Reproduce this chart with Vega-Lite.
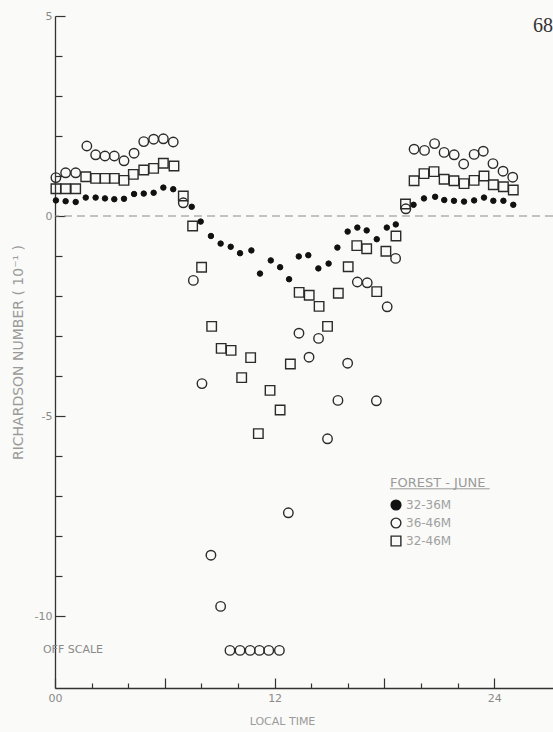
{
  "$schema": "https://vega.github.io/schema/vega-lite/v6.json",
  "width": 498,
  "height": 672,
  "autosize": "none",
  "padding": {"left": 55, "top": 16, "right": 0, "bottom": 44},
  "background": "#fafaf8",
  "config": {"view": {"stroke": null}, "font": "DejaVu Sans"},
  "title": {"text": "68", "anchor": "end", "frame": "group", "orient": "top", "offset": -46, "dx": 0, "fontSize": 20, "font": "Liberation Serif", "fontWeight": "normal", "color": "#333333", "baseline": "bottom"},
  "datasets": {
    "ri": [
      {"t":0.05,"ri":0.39,"s":"32-36M"},{"t":0.58,"ri":0.37,"s":"32-36M"},{"t":1.13,"ri":0.35,"s":"32-36M"},{"t":1.68,"ri":0.46,"s":"32-36M"},{"t":2.22,"ri":0.46,"s":"32-36M"},{"t":2.73,"ri":0.44,"s":"32-36M"},{"t":3.24,"ri":0.42,"s":"32-36M"},{"t":3.77,"ri":0.43,"s":"32-36M"},{"t":4.32,"ri":0.55,"s":"32-36M"},{"t":4.85,"ri":0.56,"s":"32-36M"},{"t":5.39,"ri":0.58,"s":"32-36M"},{"t":5.92,"ri":0.71,"s":"32-36M"},{"t":6.46,"ri":0.67,"s":"32-36M"},{"t":7.47,"ri":0.23,"s":"32-36M"},{"t":7.96,"ri":-0.14,"s":"32-36M"},{"t":8.52,"ri":-0.5,"s":"32-36M"},{"t":9.05,"ri":-0.69,"s":"32-36M"},{"t":9.6,"ri":-0.77,"s":"32-36M"},{"t":10.11,"ri":-0.93,"s":"32-36M"},{"t":10.73,"ri":-0.86,"s":"32-36M"},{"t":11.2,"ri":-1.44,"s":"32-36M"},{"t":11.79,"ri":-1.11,"s":"32-36M"},{"t":12.3,"ri":-1.28,"s":"32-36M"},{"t":12.79,"ri":-1.58,"s":"32-36M"},{"t":13.32,"ri":-1.01,"s":"32-36M"},{"t":13.84,"ri":-0.98,"s":"32-36M"},{"t":14.39,"ri":-1.31,"s":"32-36M"},{"t":14.95,"ri":-1.19,"s":"32-36M"},{"t":15.43,"ri":-0.79,"s":"32-36M"},{"t":15.99,"ri":-0.39,"s":"32-36M"},{"t":16.52,"ri":-0.29,"s":"32-36M"},{"t":17.03,"ri":-0.36,"s":"32-36M"},{"t":17.58,"ri":-0.58,"s":"32-36M"},{"t":18.13,"ri":-0.29,"s":"32-36M"},{"t":18.62,"ri":-0.21,"s":"32-36M"},{"t":19.59,"ri":0.28,"s":"32-36M"},{"t":20.16,"ri":0.44,"s":"32-36M"},{"t":20.77,"ri":0.48,"s":"32-36M"},{"t":21.27,"ri":0.4,"s":"32-36M"},{"t":21.8,"ri":0.38,"s":"32-36M"},{"t":22.35,"ri":0.36,"s":"32-36M"},{"t":22.9,"ri":0.39,"s":"32-36M"},{"t":23.44,"ri":0.46,"s":"32-36M"},{"t":23.95,"ri":0.38,"s":"32-36M"},{"t":24.5,"ri":0.38,"s":"32-36M"},{"t":25.04,"ri":0.28,"s":"32-36M"},
      {"t":0.05,"ri":0.96,"s":"36-46M"},{"t":0.58,"ri":1.08,"s":"36-46M"},{"t":1.13,"ri":1.08,"s":"36-46M"},{"t":1.74,"ri":1.75,"s":"36-46M"},{"t":2.22,"ri":1.53,"s":"36-46M"},{"t":2.73,"ri":1.5,"s":"36-46M"},{"t":3.24,"ri":1.5,"s":"36-46M"},{"t":3.77,"ri":1.38,"s":"36-46M"},{"t":4.32,"ri":1.57,"s":"36-46M"},{"t":4.85,"ri":1.86,"s":"36-46M"},{"t":5.39,"ri":1.92,"s":"36-46M"},{"t":5.92,"ri":1.93,"s":"36-46M"},{"t":6.46,"ri":1.85,"s":"36-46M"},{"t":7.01,"ri":0.33,"s":"36-46M"},{"t":7.56,"ri":-1.61,"s":"36-46M"},{"t":8.03,"ri":-4.19,"s":"36-46M"},{"t":8.52,"ri":-8.48,"s":"36-46M"},{"t":9.05,"ri":-9.76,"s":"36-46M"},{"t":9.56,"ri":-10.86,"s":"36-46M"},{"t":10.11,"ri":-10.86,"s":"36-46M"},{"t":10.66,"ri":-10.86,"s":"36-46M"},{"t":11.17,"ri":-10.86,"s":"36-46M"},{"t":11.68,"ri":-10.86,"s":"36-46M"},{"t":12.26,"ri":-10.86,"s":"36-46M"},{"t":12.75,"ri":-7.42,"s":"36-46M"},{"t":13.33,"ri":-2.93,"s":"36-46M"},{"t":13.88,"ri":-3.53,"s":"36-46M"},{"t":14.4,"ri":-3.06,"s":"36-46M"},{"t":14.89,"ri":-5.57,"s":"36-46M"},{"t":15.46,"ri":-4.61,"s":"36-46M"},{"t":15.99,"ri":-3.68,"s":"36-46M"},{"t":16.52,"ri":-1.65,"s":"36-46M"},{"t":17.06,"ri":-1.67,"s":"36-46M"},{"t":17.56,"ri":-4.62,"s":"36-46M"},{"t":18.15,"ri":-2.27,"s":"36-46M"},{"t":18.61,"ri":-1.06,"s":"36-46M"},{"t":19.17,"ri":0.18,"s":"36-46M"},{"t":19.62,"ri":1.67,"s":"36-46M"},{"t":20.19,"ri":1.64,"s":"36-46M"},{"t":20.74,"ri":1.81,"s":"36-46M"},{"t":21.26,"ri":1.59,"s":"36-46M"},{"t":21.81,"ri":1.53,"s":"36-46M"},{"t":22.33,"ri":1.3,"s":"36-46M"},{"t":22.9,"ri":1.54,"s":"36-46M"},{"t":23.4,"ri":1.62,"s":"36-46M"},{"t":23.93,"ri":1.31,"s":"36-46M"},{"t":24.48,"ri":1.12,"s":"36-46M"},{"t":25.01,"ri":0.97,"s":"36-46M"},
      {"t":0.05,"ri":0.68,"s":"32-46M"},{"t":0.58,"ri":0.68,"s":"32-46M"},{"t":1.13,"ri":0.68,"s":"32-46M"},{"t":1.68,"ri":0.98,"s":"32-46M"},{"t":2.22,"ri":0.94,"s":"32-46M"},{"t":2.73,"ri":0.94,"s":"32-46M"},{"t":3.24,"ri":0.94,"s":"32-46M"},{"t":3.77,"ri":0.89,"s":"32-46M"},{"t":4.28,"ri":1.04,"s":"32-46M"},{"t":4.85,"ri":1.15,"s":"32-46M"},{"t":5.39,"ri":1.19,"s":"32-46M"},{"t":5.92,"ri":1.32,"s":"32-46M"},{"t":6.5,"ri":1.25,"s":"32-46M"},{"t":7.01,"ri":0.5,"s":"32-46M"},{"t":7.52,"ri":-0.25,"s":"32-46M"},{"t":8.01,"ri":-1.28,"s":"32-46M"},{"t":8.56,"ri":-2.76,"s":"32-46M"},{"t":9.08,"ri":-3.31,"s":"32-46M"},{"t":9.62,"ri":-3.36,"s":"32-46M"},{"t":10.2,"ri":-4.04,"s":"32-46M"},{"t":10.69,"ri":-3.54,"s":"32-46M"},{"t":11.11,"ri":-5.44,"s":"32-46M"},{"t":11.75,"ri":-4.36,"s":"32-46M"},{"t":12.3,"ri":-4.85,"s":"32-46M"},{"t":12.86,"ri":-3.7,"s":"32-46M"},{"t":13.34,"ri":-1.91,"s":"32-46M"},{"t":13.89,"ri":-1.98,"s":"32-46M"},{"t":14.43,"ri":-2.26,"s":"32-46M"},{"t":14.89,"ri":-2.76,"s":"32-46M"},{"t":15.48,"ri":-1.93,"s":"32-46M"},{"t":16.02,"ri":-1.27,"s":"32-46M"},{"t":16.49,"ri":-0.74,"s":"32-46M"},{"t":17.03,"ri":-0.82,"s":"32-46M"},{"t":17.58,"ri":-1.89,"s":"32-46M"},{"t":18.08,"ri":-0.88,"s":"32-46M"},{"t":18.63,"ri":-0.5,"s":"32-46M"},{"t":19.15,"ri":0.3,"s":"32-46M"},{"t":19.62,"ri":0.88,"s":"32-46M"},{"t":20.16,"ri":1.06,"s":"32-46M"},{"t":20.71,"ri":1.11,"s":"32-46M"},{"t":21.26,"ri":0.92,"s":"32-46M"},{"t":21.8,"ri":0.88,"s":"32-46M"},{"t":22.35,"ri":0.81,"s":"32-46M"},{"t":22.9,"ri":0.89,"s":"32-46M"},{"t":23.44,"ri":1.0,"s":"32-46M"},{"t":23.95,"ri":0.78,"s":"32-46M"},{"t":24.5,"ri":0.73,"s":"32-46M"},{"t":25.04,"ri":0.65,"s":"32-46M"}
    ]
  },
  "layer": [
    {
      "data": {"values": [{}]},
      "mark": {"type": "rule", "color": "#8a8a8a", "strokeDash": [8, 5], "strokeWidth": 1},
      "encoding": {"y": {"datum": 0}}
    },
    {
      "data": {"values": [{"label": "OFF SCALE"}]},
      "mark": {"type": "text", "align": "left", "baseline": "middle", "fontSize": 11, "fill": "#8a8a8a"},
      "encoding": {
        "x": {"datum": -0.66},
        "y": {"datum": -10.86},
        "text": {"field": "label"}
      }
    },
    {
      "data": {"values": [{}]},
      "mark": {"type": "rule", "color": "#9a9a9a", "strokeWidth": 1},
      "encoding": {"x": {"datum": 18.3}, "x2": {"datum": 23.75}, "y": {"datum": -6.82}}
    },
    {
      "data": {"name": "ri"},
      "encoding": {
        "x": {
          "field": "t", "type": "quantitative",
          "scale": {"domain": [0, 27.21], "nice": false, "zero": false},
          "axis": {
            "values": [0,1,2,3,4,5,6,7,8,9,10,11,12,13,14,15,16,17,18,19,20,21,22,23,24],
            "labelExpr": "datum.value === 0 ? '00' : (datum.value % 12 === 0 ? datum.label : '')",
            "tickSize": {"condition": {"test": "datum.value % 6 === 0", "value": -10}, "value": -5},
            "tickColor": "#333333", "tickWidth": 1.2,
            "domainColor": "#333333", "domainWidth": 1.3,
            "labelColor": "#8a8a8a", "labelFontSize": 11, "labelPadding": 14,
            "labelFlush": false, "labelOverlap": false,
            "grid": false,
            "title": "LOCAL TIME", "titleColor": "#9a9a9a", "titleFontSize": 11, "titleFontWeight": "normal",
            "titleX": 227, "titleY": 33, "titleBaseline": "middle", "titleAnchor": "middle"
          }
        },
        "y": {
          "field": "ri", "type": "quantitative",
          "scale": {"domain": [-11.8, 5], "nice": false, "zero": false},
          "axis": {
            "values": [-10,-9,-8,-7,-6,-5,-4,-3,-2,-1,0,1,2,3,4,5],
            "labelExpr": "datum.value % 5 === 0 ? (datum.value < 0 ? '-' + abs(datum.value) : '' + datum.value) : ''",
            "tickSize": {"condition": {"test": "datum.value % 5 === 0", "value": -10}, "value": -7},
            "tickColor": "#333333", "tickWidth": 1.2,
            "domainColor": "#333333", "domainWidth": 1.3,
            "labelColor": "#8a8a8a", "labelFontSize": 11, "labelPadding": 13,
            "labelFlush": false, "labelOverlap": false,
            "grid": false,
            "title": "RICHARDSON NUMBER ( 10⁻¹ )", "titleColor": "#9a9a9a", "titleFontSize": 14, "titleFontWeight": "normal",
            "titlePadding": 9
          }
        },
        "shape": {"field": "s", "type": "nominal", "scale": {"domain": ["32-36M", "36-46M", "32-46M"], "range": ["circle", "circle", "square"]},
          "legend": {
            "orient": "none", "legendX": 335, "legendY": 461,
            "title": "FOREST - JUNE", "titleFontSize": 13, "titleColor": "#9a9a9a", "titleFontWeight": "normal",
            "labelFontSize": 12, "labelColor": "#a0a0a0",
            "symbolSize": 95, "symbolStrokeWidth": 1.4, "rowPadding": 2, "titlePadding": 9, "labelOffset": 4
          }},
        "fill": {"field": "s", "type": "nominal", "scale": {"domain": ["32-36M", "36-46M", "32-46M"], "range": ["#111111", "transparent", "transparent"]}},
        "stroke": {"field": "s", "type": "nominal", "scale": {"domain": ["32-36M", "36-46M", "32-46M"], "range": ["#111111", "#2b2b2b", "#2b2b2b"]}}
      },
      "layer": [
        {
          "transform": [{"filter": "datum.s === '32-36M'"}],
          "mark": {"type": "point", "strokeWidth": 1, "opacity": 1, "size": 30}
        },
        {
          "transform": [{"filter": "datum.s !== '32-36M'"}],
          "mark": {"type": "point", "strokeWidth": 1.4, "opacity": 1, "size": 90, "clip": false}
        }
      ]
    }
  ]
}
